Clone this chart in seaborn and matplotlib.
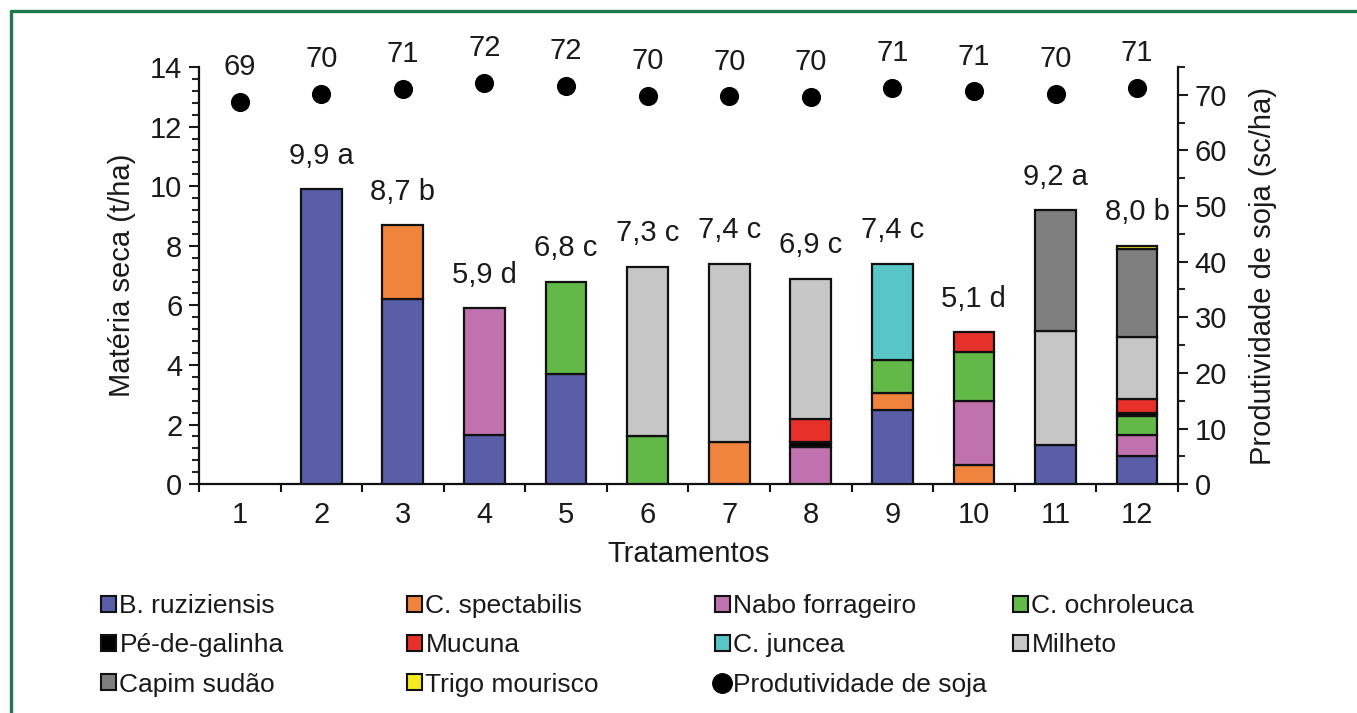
import matplotlib
matplotlib.use('Agg')
import matplotlib.pyplot as plt
import seaborn as sns
import numpy as np
from matplotlib.patches import Patch
from matplotlib.lines import Line2D
from matplotlib.ticker import MultipleLocator, FixedLocator

# Data (t/ha de matéria seca por espécie, tratamentos 1-12)
tratamentos = [str(i) for i in range(1, 13)]
b_ruziziensis = [0, 9.9, 6.2, 1.65, 3.7, 0, 0, 0, 2.5, 0, 1.3, 0.95]
c_spectabilis = [0, 0, 2.5, 0, 0, 0, 1.4, 0, 0.55, 0.65, 0, 0]
nabo_forrageiro = [0, 0, 0, 4.25, 0, 0, 0, 1.25, 0, 2.15, 0, 0.7]
c_ochroleuca = [0, 0, 0, 0, 3.1, 1.6, 0, 0, 1.1, 1.65, 0, 0.65]
pe_de_galinha = [0, 0, 0, 0, 0, 0, 0, 0.15, 0, 0, 0, 0.1]
mucuna = [0, 0, 0, 0, 0, 0, 0, 0.8, 0, 0.65, 0, 0.45]
c_juncea = [0, 0, 0, 0, 0, 0, 0, 0, 3.25, 0, 0, 0]
milheto = [0, 0, 0, 0, 0, 5.7, 6.0, 4.7, 0, 0, 3.85, 2.1]
capim_sudao = [0, 0, 0, 0, 0, 0, 0, 0, 0, 0, 4.05, 2.95]
trigo_mourisco = [0, 0, 0, 0, 0, 0, 0, 0, 0, 0, 0, 0.1]
letras = ['', 'a', 'b', 'd', 'c', 'c', 'c', 'c', 'c', 'd', 'a', 'b']
produtividade = [68.8, 70.2, 71.1, 72.2, 71.6, 69.8, 69.7, 69.6, 71.3, 70.6, 70.2, 71.3]

especies = [
    ("B. ruziziensis", b_ruziziensis, '#5a5ea8'),
    ("C. spectabilis", c_spectabilis, '#f1843d'),
    ("Nabo forrageiro", nabo_forrageiro, '#c072ae'),
    ("C. ochroleuca", c_ochroleuca, '#63b947'),
    ("Pé-de-galinha", pe_de_galinha, '#000000'),
    ("Mucuna", mucuna, '#e8302a'),
    ("C. juncea", c_juncea, '#58c5c8'),
    ("Milheto", milheto, '#c6c6c6'),
    ("Capim sudão", capim_sudao, '#7f7f7f'),
    ("Trigo mourisco", trigo_mourisco, '#f5ea1e'),
]

sns.set_style('ticks')
plt.rcParams['font.family'] = ['Liberation Sans', 'DejaVu Sans']
FS = 21
FS_LEG = 19
TXT = '#1a1a1a'

fig = plt.figure(figsize=(13.57, 7.13), dpi=100)
ax = fig.add_axes([0.1466, 0.321, 0.7214, 0.585])
ax2 = ax.twinx()

x = np.arange(len(tratamentos))
bottom = np.zeros(len(tratamentos))
for nome, vals, cor in especies:
    v = np.array(vals, dtype=float)
    m = v > 0
    ax.bar(x[m], v[m], bottom=bottom[m], width=0.5, color=cor,
           edgecolor='#111111', linewidth=1.6, zorder=3)
    bottom += v

for i, tot in enumerate(bottom):
    if tot > 0:
        txt = f"{tot:.1f}".replace('.', ',') + ' ' + letras[i]
        ax.annotate(txt, (x[i], tot), xytext=(0, 24), textcoords='offset points',
                    ha='center', va='center', fontsize=FS, color=TXT)

sns.scatterplot(x=x, y=produtividade, ax=ax2, s=190, color='black',
                edgecolor='black', linewidth=0, zorder=5, legend=False)
for i, p in enumerate(produtividade):
    ax2.annotate(f"{round(p)}", (x[i], p), xytext=(0, 25), textcoords='offset points',
                 ha='center', va='center', fontsize=FS, color=TXT)

ax.set_xlim(-0.5, len(tratamentos) - 0.5)
ax.set_ylim(0, 14)
ax2.set_ylim(0, 75)

ax.yaxis.set_major_locator(MultipleLocator(2))
ax.yaxis.set_minor_locator(MultipleLocator(0.4))
ax2.yaxis.set_major_locator(FixedLocator([0, 10, 20, 30, 40, 50, 60, 70]))
ax2.yaxis.set_minor_locator(MultipleLocator(5))
ax.set_xticks(x)
ax.set_xticklabels(tratamentos)
ax.xaxis.set_minor_locator(FixedLocator(np.arange(-0.5, len(tratamentos), 1.0)))

for a in (ax, ax2):
    a.spines['top'].set_visible(False)
    for s in a.spines.values():
        s.set_linewidth(1.6)
        s.set_color('#111111')
ax.spines['right'].set_visible(False)
ax2.spines['left'].set_visible(False)
ax2.spines['bottom'].set_visible(False)

ax.tick_params(axis='y', which='major', length=7, width=1.5, labelsize=FS, pad=5, colors=TXT)
ax.tick_params(axis='y', which='minor', length=5, width=1.5)
ax.tick_params(axis='x', which='major', length=0, labelsize=FS, pad=12, colors=TXT)
ax.tick_params(axis='x', which='minor', length=6, width=1.5, color='#111111')
ax2.tick_params(axis='y', which='major', length=7, width=1.5, labelsize=FS, pad=5, colors=TXT)
ax2.tick_params(axis='y', which='minor', length=5, width=1.5)

ax.set_ylabel("Matéria seca (t/ha)", fontsize=FS, labelpad=10, color=TXT)
ax2.set_ylabel("Produtividade de soja (sc/ha)", fontsize=FS, labelpad=16, color=TXT)
ax.set_xlabel("Tratamentos", fontsize=FS, labelpad=8, color=TXT)

# Legend: four columns placed at fixed positions
handles = {nome: Patch(facecolor=cor, edgecolor='#111111', linewidth=1.5) for nome, _, cor in especies}
handles["Produtividade de soja"] = Line2D([], [], marker='o', color='black', linestyle='', markersize=14)
colunas = [["B. ruziziensis", "Pé-de-galinha", "Capim sudão"],
           ["C. spectabilis", "Mucuna", "Trigo mourisco"],
           ["Nabo forrageiro", "C. juncea", "Produtividade de soja"],
           ["C. ochroleuca", "Milheto"]]
col_x = [101, 407, 715, 1013]
for cx, nomes in zip(col_x, colunas):
    leg = fig.legend([handles[n] for n in nomes], nomes, ncol=1, loc='upper left',
                     bbox_to_anchor=(cx / 1357, 0.167), frameon=False, fontsize=FS_LEG,
                     handlelength=0.55, handleheight=0.55, handletextpad=0.15,
                     labelspacing=0.58, borderpad=0, borderaxespad=0)
    for t in leg.get_texts():
        t.set_color(TXT)

# Green frame (top and left)
verde = '#1f7a4b'
fig.add_artist(Line2D([0.0081, 1.0], [0.9846, 0.9846], transform=fig.transFigure, color=verde, lw=2.4))
fig.add_artist(Line2D([0.0081, 0.0081], [0.0, 0.9846], transform=fig.transFigure, color=verde, lw=2.4))

fig.savefig('out.png', dpi=100, facecolor='white')
